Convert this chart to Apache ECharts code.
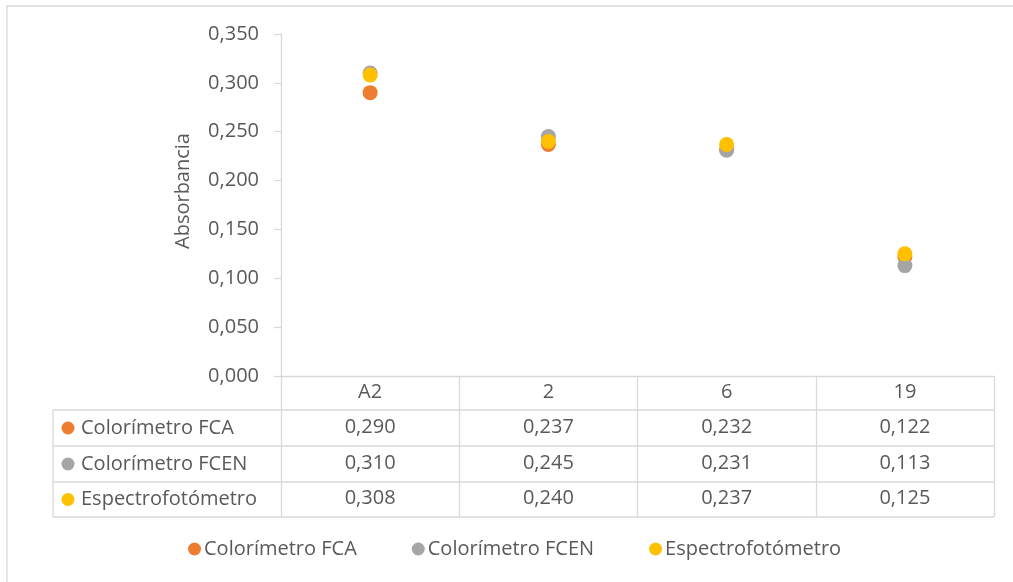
<!DOCTYPE html>
<html>
<head>
<meta charset="utf-8">
<script src="https://cdn.jsdelivr.net/npm/echarts@6/dist/echarts.min.js"></script>
<style>
html,body{margin:0;padding:0;background:#fff;}
#c{width:1013px;height:582px;}
</style>
</head>
<body>
<div id="c"></div>
<script>
const categories = ['A2', '2', '6', '19'];
const seriesNames = ['Colorímetro FCA', 'Colorímetro FCEN', 'Espectrofotómetro'];
const fca = [0.290, 0.237, 0.232, 0.122];
const fcen = [0.310, 0.245, 0.231, 0.113];
const espectro = [0.308, 0.240, 0.237, 0.125];
const yTicks = [0, 0.05, 0.10, 0.15, 0.20, 0.25, 0.30, 0.35];

const values = [fca, fcen, espectro];
const colors = ['#ED7D31', '#A5A5A5', '#FFC000'];
const FONT = 'Open Sans';
const FS = 20;
const TXT = '#595959';
const LINE = '#D9D9D9';
const fmt = v => v.toFixed(3).replace('.', ',');

const G = {left: 281, right: 19, top: 34, bottom: 206};
const W = 1013, H = 582;
const axisY = H - G.bottom;          // 376
const rowEdges = [410, 446, 482, 517];
const tableLeft = 53, tableRight = W - G.right;
const rowCenters = [428, 464, 499.5];

const chart = echarts.init(document.getElementById('c'), null, {renderer: 'canvas'});

const xAxes = [{
  type: 'category', data: categories, gridIndex: 0, position: 'bottom',
  boundaryGap: true,
  axisLine: {show: true, lineStyle: {color: LINE, width: 1.3}},
  axisTick: {show: true, interval: 0, alignWithLabel: false, length: rowEdges[3] - axisY, lineStyle: {color: LINE, width: 1.3}},
  axisLabel: {margin: 6, color: TXT, fontFamily: FONT, fontSize: FS, interval: 0},
  splitLine: {show: false}
}];
values.forEach((arr, k) => {
  xAxes.push({
    type: 'category', data: categories, gridIndex: 0, position: 'bottom',
    offset: rowCenters[k] - axisY - 17,
    axisLine: {show: false}, axisTick: {show: false}, splitLine: {show: false},
    axisLabel: {margin: 6, color: TXT, fontFamily: FONT, fontSize: FS, interval: 0,
      formatter: (v, i) => fmt(arr[i])}
  });
});

const graphics = [
  {type: 'rect', shape: {x: 7, y: 6, width: 1030, height: 590}, style: {fill: 'none', stroke: LINE, lineWidth: 1.3}, silent: true, z: -10}
];
rowEdges.forEach(y => {
  graphics.push({type: 'line', shape: {x1: tableLeft, y1: y, x2: tableRight, y2: y}, style: {stroke: LINE, lineWidth: 1.3}, silent: true});
});
graphics.push({type: 'line', shape: {x1: tableLeft, y1: rowEdges[0], x2: tableLeft, y2: rowEdges[3]}, style: {stroke: LINE, lineWidth: 1.3}, silent: true});
seriesNames.forEach((n, k) => {
  graphics.push({type: 'circle', shape: {cx: 68, cy: rowCenters[k], r: 6.5}, style: {fill: colors[k]}, silent: true});
  graphics.push({type: 'text', x: 81, y: rowCenters[k], style: {text: n, fill: TXT, font: FS + 'px "' + FONT + '"', textVerticalAlign: 'middle', verticalAlign: 'middle'}, silent: true});
});

chart.setOption({
  animation: false,
  textStyle: {fontFamily: FONT},
  grid: {left: G.left, right: G.right, top: G.top, bottom: G.bottom, containLabel: false},
  legend: {
    data: seriesNames, bottom: 18, left: 183, icon: 'circle', itemWidth: 13, itemHeight: 13, itemGap: 55,
    textStyle: {color: TXT, fontFamily: FONT, fontSize: FS, padding: [0, 0, 0, -2]}
  },
  xAxis: xAxes,
  yAxis: {
    type: 'value', min: 0, max: 0.35, interval: 0.05,
    name: 'Absorbancia', nameLocation: 'middle', nameGap: 88,
    nameTextStyle: {color: TXT, fontFamily: FONT, fontSize: FS, padding: [0, 0, 0, 28]},
    axisLine: {show: true, lineStyle: {color: LINE, width: 1.3}},
    axisTick: {show: true, length: 7, lineStyle: {color: LINE, width: 1.3}},
    axisLabel: {margin: 22, color: TXT, fontFamily: FONT, fontSize: FS, formatter: v => fmt(v)},
    splitLine: {show: false}
  },
  series: seriesNames.map((n, k) => ({
    name: n, type: 'scatter', xAxisIndex: 0, yAxisIndex: 0,
    data: values[k], symbol: 'circle', symbolSize: 15,
    itemStyle: {color: colors[k], opacity: 1}
  })),
  graphic: graphics
});
</script>
</body>
</html>
